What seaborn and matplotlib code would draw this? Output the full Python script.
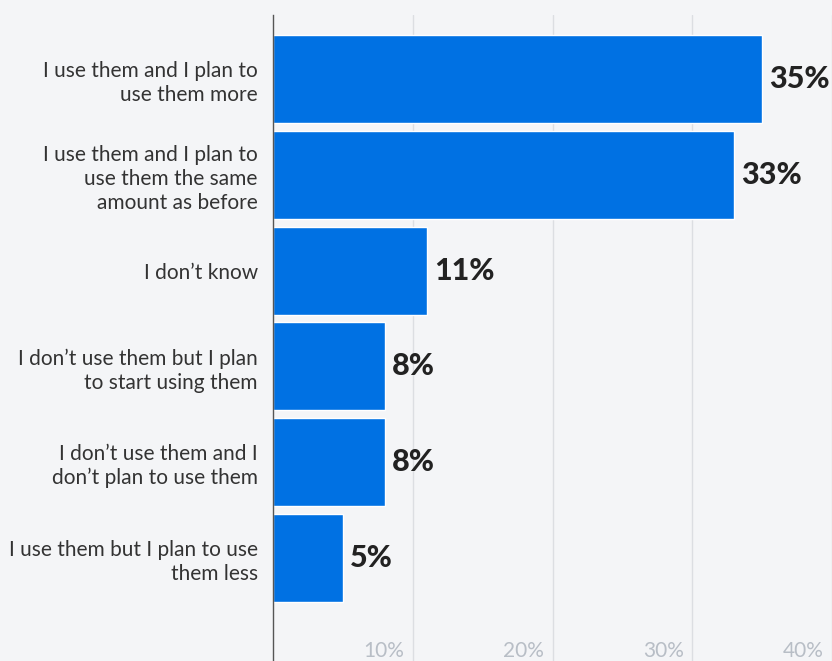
import matplotlib
matplotlib.use("Agg")
import matplotlib.pyplot as plt
import matplotlib.transforms as mtransforms
import seaborn as sns
import pandas as pd

categories = [
    "I use them and I plan to\nuse them more",
    "I use them and I plan to\nuse them the same\namount as before",
    "I don\u2019t know",
    "I don\u2019t use them but I plan\nto start using them",
    "I don\u2019t use them and I\ndon\u2019t plan to use them",
    "I use them but I plan to use\nthem less",
]
values = [35, 33, 11, 8, 8, 5]
tick_values = [10, 20, 30, 40]
tick_labels = ["10%", "20%", "30%", "40%"]

sns.set_theme(style="white")
plt.rcParams["font.family"] = ["Lato", "DejaVu Sans"]

bg = "#f4f5f7"
fig = plt.figure(figsize=(8.32, 6.61), dpi=100, facecolor=bg)
ax = fig.add_axes([273 / 832, 0, (832 - 273) / 832, (661 - 15) / 661])
ax.set_facecolor(bg)

df = pd.DataFrame({"cat": categories, "val": values})
sns.barplot(data=df, x="val", y="cat", orient="h", color="#0071e3",
            saturation=1, width=0.92, ax=ax, zorder=3)

ax.set_xlim(0, 40)
ax.set_ylim(6.075, -0.668)
ax.set_xlabel("")
ax.set_ylabel("")

for s in ["top", "right", "bottom"]:
    ax.spines[s].set_visible(False)
ax.spines["left"].set_color("#555555")
ax.spines["left"].set_linewidth(1.0)
ax.spines["left"].set_zorder(4)

ax.set_xticks(tick_values)
ax.set_xticklabels([])
ax.tick_params(axis="x", length=0)
ax.xaxis.grid(True, color="#dcdee2", linewidth=1, zorder=0)
ax.set_axisbelow(True)

ax.tick_params(axis="y", length=0, pad=11, labelsize=15, labelcolor="#333333")
for lbl in ax.get_yticklabels():
    lbl.set_linespacing(1.25)

trans = mtransforms.blended_transform_factory(ax.transData, ax.transAxes)
for tv, tl in zip(tick_values, tick_labels):
    ax.text(tv - 0.6, 0.0, tl, transform=trans, ha="right", va="bottom",
            fontsize=15, color="#b8bec6")

for i, v in enumerate(values):
    ax.text(v + 0.5, i, f"{v}%", ha="left", va="center", fontsize=22,
            fontweight=900, color="#222222", zorder=5)

fig.savefig("out.png", dpi=100, facecolor=bg)
